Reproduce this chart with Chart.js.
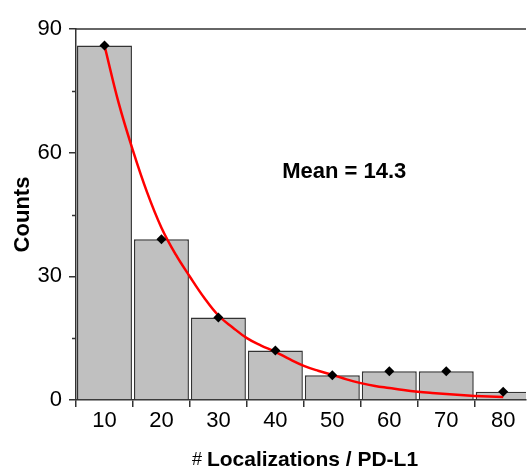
<!DOCTYPE html>
<html>
<head>
<meta charset="utf-8">
<script src="https://cdn.jsdelivr.net/npm/chart.js@4/dist/chart.umd.min.js"></script>
<style>
    html, body { margin: 0; padding: 0; background: #fff; }
    #histo { display: block; }
</style>
</head>
<body>
<canvas id="histo" width="531" height="469"></canvas>
<script>
/*global Chart*/

// histogram bins (bin centre) and counts
var binCentres = [10, 20, 30, 40, 50, 60, 70, 80];
var counts = [86, 39, 20, 12, 6, 7, 7, 2];

// red fitted curve, every 2.5 units
var fitX = [10, 12.5, 15, 17.5, 20, 22.5, 25, 27.5, 30, 32.5, 35, 37.5, 40, 42.5, 45, 47.5,
    50, 52.5, 55, 57.5, 60, 62.5, 65, 67.5, 70, 72.5, 75, 77.5, 80];
var fitY = [86, 72, 60.5, 50.3, 41.8, 35.3, 29.9, 24.8, 20.5, 17.6, 15, 13.2, 11.7, 9.9, 8.3, 7.1,
    6.1, 5.0, 4.1, 3.4, 2.9, 2.4, 2.0, 1.7, 1.45, 1.2, 1.0, 0.85, 0.7];

var xTicks = [10, 20, 30, 40, 50, 60, 70, 80];
var yTicks = [0, 30, 60, 90];
var yMinorTicks = [15, 45, 75];

var axisColor = "#333333";
var labelFont = "Arial, 'Liberation Sans', sans-serif";

function toPoints(xs, ys) {
    "use strict";
    return xs.map(function (x, i) {
        return {x: x, y: ys[i]};
    });
}

var extras = {
    id: "extras",
    afterDraw: function (chart) {
        "use strict";
        var ctx = chart.ctx;
        var area = chart.chartArea;
        var yScale = chart.scales.y;
        var xScale = chart.scales.x;
        ctx.save();

        // top frame line
        ctx.strokeStyle = axisColor;
        ctx.lineWidth = 1.5;
        ctx.beginPath();
        ctx.moveTo(area.left, area.top);
        ctx.lineTo(area.right, area.top);
        ctx.stroke();

        // minor ticks on the y axis
        yMinorTicks.forEach(function (v) {
            var py = Math.round(yScale.getPixelForValue(v)) + 0.5;
            ctx.beginPath();
            ctx.moveTo(area.left - 4, py);
            ctx.lineTo(area.left, py);
            ctx.stroke();
        });

        ctx.fillStyle = "#000";
        ctx.textBaseline = "middle";

        // y title
        ctx.save();
        ctx.translate(23, (area.top + area.bottom) / 2);
        ctx.rotate(-Math.PI / 2);
        ctx.textAlign = "center";
        ctx.font = "bold 22px " + labelFont;
        ctx.fillText("Counts", 0, 0);
        ctx.restore();

        // x title: "#" normal, rest bold
        var part1 = "# ";
        var part2 = "Localizations / PD-L1";
        ctx.font = "18px " + labelFont;
        var w1 = ctx.measureText(part1).width;
        ctx.font = "bold 21px " + labelFont;
        var w2 = ctx.measureText(part2).width;
        var startX = 305 - (w1 + w2) / 2;
        ctx.textAlign = "left";
        ctx.font = "18px " + labelFont;
        ctx.fillText(part1, startX, 460);
        ctx.font = "bold 21px " + labelFont;
        ctx.fillText(part2, startX + w1, 460);

        // annotation
        ctx.textAlign = "center";
        ctx.font = "bold 22px " + labelFont;
        ctx.fillText("Mean = 14.3", xScale.getPixelForValue(52.1), yScale.getPixelForValue(55.3));

        ctx.restore();
    }
};

new Chart(document.getElementById("histo"), {
    type: "bar",
    data: {
        datasets: [{
            type: "line",
            data: toPoints(binCentres, counts),
            showLine: false,
            pointStyle: "rectRot",
            pointRadius: 5,
            pointBackgroundColor: "#000",
            pointBorderColor: "#000",
            pointBorderWidth: 0,
            order: 1
        }, {
            type: "line",
            data: toPoints(fitX, fitY),
            borderColor: "#ff0000",
            borderWidth: 2.5,
            pointRadius: 0,
            tension: 0.4,
            fill: false,
            order: 2
        }, {
            type: "bar",
            data: toPoints(binCentres, counts),
            backgroundColor: "#c0c0c0",
            borderColor: axisColor,
            borderWidth: 1.5,
            barPercentage: 0.965,
            categoryPercentage: 1,
            order: 3
        }]
    },
    options: {
        responsive: false,
        animation: false,
        devicePixelRatio: 1,
        layout: {
            padding: {top: 29, left: 0, right: 0, bottom: 0}
        },
        plugins: {
            legend: {display: false},
            tooltip: {enabled: false}
        },
        scales: {
            x: {
                type: "linear",
                min: 5,
                max: 84,
                offset: false,
                afterBuildTicks: function (scale) {
                    scale.ticks = xTicks.map(function (v) {
                        return {value: v};
                    });
                },
                afterFit: function (scale) {
                    scale.height = 69;
                },
                border: {color: axisColor, width: 1.5},
                grid: {
                    drawOnChartArea: false,
                    tickLength: 7,
                    tickColor: axisColor,
                    lineWidth: 1.5
                },
                ticks: {
                    color: "#000",
                    padding: 1,
                    maxRotation: 0,
                    font: {family: labelFont, size: 22}
                }
            },
            y: {
                min: 0,
                max: 90,
                afterBuildTicks: function (scale) {
                    scale.ticks = yTicks.map(function (v) {
                        return {value: v};
                    });
                },
                afterFit: function (scale) {
                    scale.width = 76;
                },
                border: {color: axisColor, width: 1.5},
                grid: {
                    drawOnChartArea: false,
                    tickLength: 7,
                    tickColor: axisColor,
                    lineWidth: 1.5
                },
                ticks: {
                    color: "#000",
                    padding: 7,
                    font: {family: labelFont, size: 22}
                }
            }
        }
    },
    plugins: [extras]
});
</script>
</body>
</html>
